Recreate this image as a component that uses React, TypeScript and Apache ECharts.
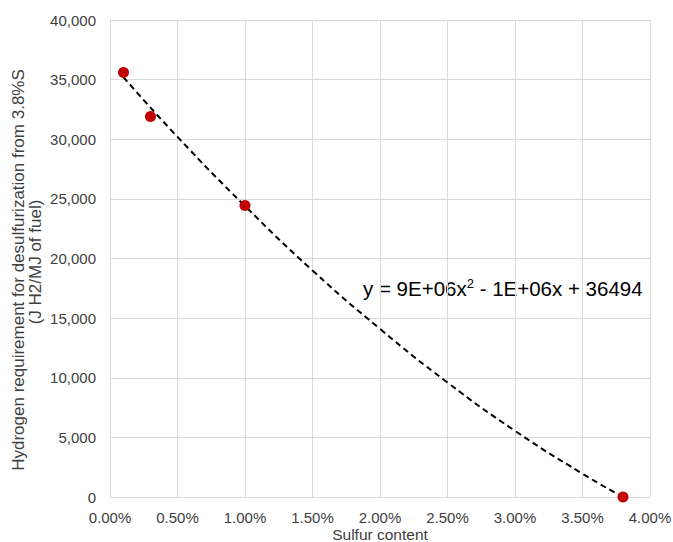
import React, { useEffect, useRef } from "react";
import * as echarts from "echarts";

const sulfurPct = [0.1, 0.3, 1.0, 3.8];
const hydrogenReq = [35600, 31900, 24450, 0];

const trendX = [0.1, 0.5, 1.0, 1.5, 2.0, 2.5, 3.0, 3.5, 3.8];
const trendY = [35200, 30200, 24400, 19000, 14100, 9600, 5550, 1950, 0];

const yTicks = [0, 5000, 10000, 15000, 20000, 25000, 30000, 35000, 40000];

const xTitle = "Sulfur content";
const yTitleLine1 = "Hydrogen requirement for desulfurization from 3.8%S";
const yTitleLine2 = "(J H2/MJ of fuel)";
const equation = "y = 9E+06x{sup|2} - 1E+06x + 36494";

export default function App() {
  const ref = useRef<HTMLDivElement>(null);
  useEffect(() => {
    if (!ref.current) return;
    const chart = echarts.init(ref.current, null, { renderer: "svg" });
    const font = "Liberation Sans, Arial, sans-serif";
    const textColor = "#404040";
    chart.setOption({
      animation: false,
      textStyle: { fontFamily: font },
      grid: {
        left: 110,
        right: 23,
        top: 20,
        bottom: 45,
        containLabel: false,
        outerBoundsMode: "none",
      },
      xAxis: {
        type: "value",
        min: 0,
        max: 4,
        interval: 0.5,
        axisLine: { show: true, lineStyle: { color: "#d9d9d9" } },
        axisTick: { show: false },
        axisLabel: {
          color: textColor,
          fontSize: 15,
          lineHeight: 15,
          margin: 13,
          fontFamily: font,
          formatter: (v: number) => v.toFixed(2) + "%",
        },
        splitLine: { show: true, lineStyle: { color: "#d9d9d9" } },
      },
      yAxis: {
        type: "value",
        min: yTicks[0],
        max: yTicks[yTicks.length - 1],
        interval: 5000,
        axisLine: { show: true, lineStyle: { color: "#d9d9d9" } },
        axisTick: { show: false },
        axisLabel: {
          color: textColor,
          fontSize: 15,
          margin: 14,
          fontFamily: font,
          formatter: (v: number) => v.toLocaleString("en-US"),
        },
        splitLine: { show: true, lineStyle: { color: "#d9d9d9" } },
      },
      series: [
        {
          type: "line",
          data: trendX.map((x, i) => [x, trendY[i]]),
          smooth: true,
          showSymbol: false,
          symbol: "none",
          lineStyle: { color: "#000000", width: 2, type: [6, 4] },
          z: 2,
        },
        {
          type: "scatter",
          data: sulfurPct.map((x, i) => [x, hydrogenReq[i]]),
          symbolSize: 11,
          itemStyle: { color: "#c00000", opacity: 1 },
          z: 3,
        },
      ],
      graphic: [
        {
          type: "text",
          x: 380,
          y: 534,
          style: {
            text: xTitle,
            fill: textColor,
            font: "15.5px " + font,
            align: "center",
            verticalAlign: "middle",
          },
        },
        {
          type: "text",
          x: 18,
          y: 270,
          rotation: Math.PI / 2,
          style: {
            text: yTitleLine1,
            fill: textColor,
            font: "17px " + font,
            align: "center",
            verticalAlign: "middle",
          },
        },
        {
          type: "text",
          x: 35,
          y: 262,
          rotation: Math.PI / 2,
          style: {
            text: yTitleLine2,
            fill: textColor,
            font: "17px " + font,
            align: "center",
            verticalAlign: "middle",
          },
        },
        {
          type: "text",
          x: 363,
          y: 277,
          style: {
            text: equation,
            fill: "#000000",
            font: "20.5px " + font,
            rich: {
              sup: { fontSize: 13, verticalAlign: "top", padding: [0, 0, 9, 0], fill: "#000000" },
            },
          },
        },
      ],
    });
    return () => chart.dispose();
  }, []);
  return <div ref={ref} style={{ width: 673, height: 542, position: "absolute", left: 0, top: 0 }} />;
}
